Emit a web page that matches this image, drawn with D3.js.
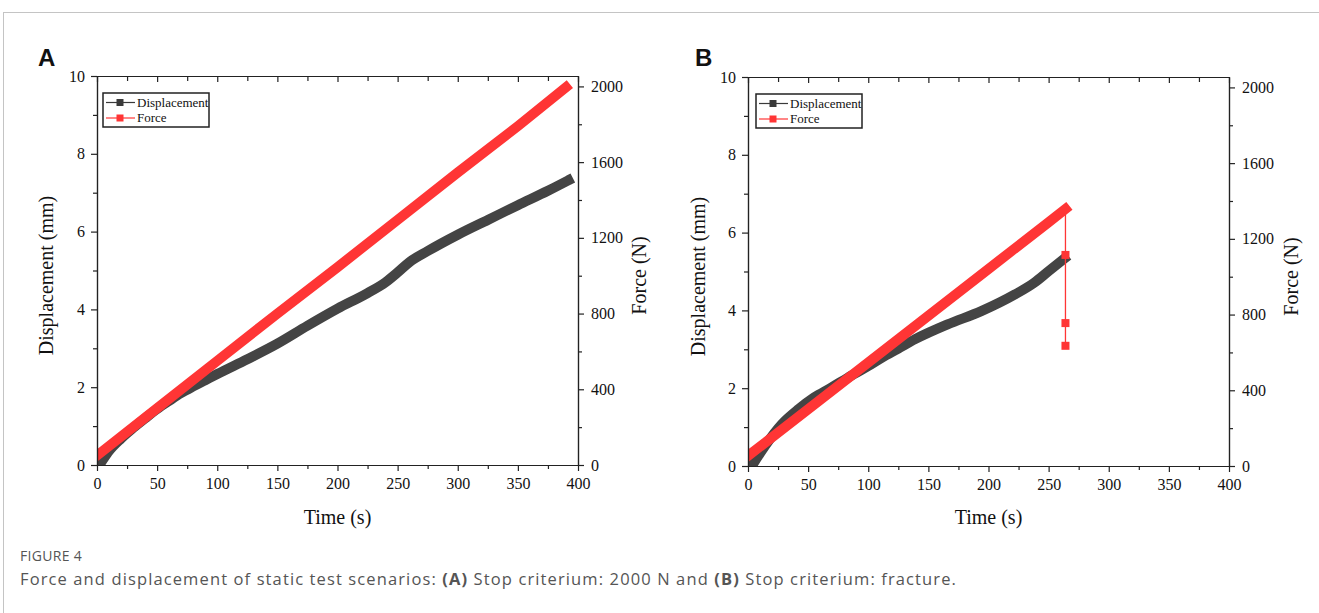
<!DOCTYPE html>
<html>
<head>
<meta charset="utf-8">
<script src="https://cdn.jsdelivr.net/npm/d3@7"></script>
<style>
  body { margin: 0; background: #fff; }
  svg { display: block; }
</style>
</head>
<body>
<svg id="fig" width="1319" height="613"></svg>
<script>
// values
const timeTicks = [0, 50, 100, 150, 200, 250, 300, 350, 400];
const timeMinor = [25, 75, 125, 175, 225, 275, 325, 375];
const dispTicks = [0, 2, 4, 6, 8, 10];
const dispMinor = [1, 3, 5, 7, 9];
const forceTicks = [0, 400, 800, 1200, 1600, 2000];
const forceMinor = [200, 600, 1000, 1400, 1800];

// panel A: stop criterium 2000 N
const dispTimeA = [2, 5, 10, 20, 30, 40, 50, 60, 70, 80, 90, 100, 125, 150, 175, 200, 225, 240, 250, 260, 275, 300, 325, 350, 375, 392];
const dispA = [0, 0.14, 0.36, 0.68, 0.95, 1.2, 1.44, 1.65, 1.85, 2.02, 2.18, 2.34, 2.72, 3.12, 3.58, 4.02, 4.42, 4.7, 4.95, 5.22, 5.5, 5.92, 6.3, 6.68, 7.05, 7.32];
const forceTimeA = [1, 50, 100, 150, 200, 250, 300, 350, 390];
const forceA = [55, 300, 550, 800, 1045, 1295, 1545, 1790, 1995];

// panel B: stop criterium fracture
const dispTimeB = [4, 14, 28, 42, 55, 69, 83, 100, 111, 125, 139, 166, 194, 222, 238, 250, 263];
const dispB = [0.04, 0.51, 1.07, 1.46, 1.76, 2.01, 2.27, 2.57, 2.78, 3.02, 3.26, 3.64, 3.98, 4.41, 4.71, 5.01, 5.33];
const forceTimeB = [1, 50, 100, 150, 200, 250, 264];
const forceB = [58, 300, 547, 794, 1041, 1288, 1358];
const dropTimeB = [264, 264, 264, 264];
const dropForceB = [1358, 1115, 755, 635];

const serif = '"Liberation Serif", "Times New Roman", serif';
const red = '#ff3535';
const grey = '#444';

const svg = d3.select('#fig');

// page frame lines
svg.append('line').attr('x1', 3).attr('x2', 1319).attr('y1', 12.5).attr('y2', 12.5)
  .attr('stroke', '#c4c4c4').attr('stroke-width', 1);
svg.append('line').attr('x1', 3.5).attr('x2', 3.5).attr('y1', 12).attr('y2', 613)
  .attr('stroke', '#c4c4c4').attr('stroke-width', 1);

function zip(xs, ys) {
  return xs.map((x, i) => [x, ys[i]]);
}

function styleAxis(g) {
  g.selectAll('path, line').attr('stroke', '#222').attr('stroke-width', 1.2);
  g.selectAll('text').attr('font-family', serif).attr('font-size', '16px').attr('fill', '#111');
}

function drawPanel(p) {
  const width = 481;
  const height = 389;
  const g = svg.append('g').attr('transform', `translate(${p.left},${p.top})`);
  const clipId = 'clip' + p.name;

  g.append('clipPath').attr('id', clipId)
    .append('rect').attr('x', 0).attr('y', -2).attr('width', width + 2).attr('height', height + 2);

  const x = d3.scaleLinear().domain([0, 400]).range([0, width]);
  const yL = d3.scaleLinear().domain([0, 10]).range([height, 0]);
  const yR = d3.scaleLinear().domain([0, 2055]).range([height, 0]);

  const lineD = d3.line().x(d => x(d[0])).y(d => yL(d[1])).curve(d3.curveMonotoneX);
  const lineF = d3.line().x(d => x(d[0])).y(d => yR(d[1]));

  const plot = g.append('g').attr('clip-path', `url(#${clipId})`);

  plot.append('path')
    .datum(zip(p.dispTime, p.disp))
    .attr('d', lineD)
    .attr('fill', 'none')
    .attr('stroke', grey)
    .attr('stroke-width', 10)
    .attr('stroke-linecap', 'square')
    .attr('stroke-linejoin', 'round');

  if (p.dropTime) {
    plot.append('path')
      .datum(zip(p.dropTime, p.dropForce))
      .attr('d', lineF)
      .attr('fill', 'none')
      .attr('stroke', red)
      .attr('stroke-width', 1.3);
  }

  plot.append('path')
    .datum(zip(p.forceTime, p.force))
    .attr('d', lineF)
    .attr('fill', 'none')
    .attr('stroke', red)
    .attr('stroke-width', 10)
    .attr('stroke-linecap', 'square')
    .attr('stroke-linejoin', 'round');

  if (p.dropTime) {
    plot.selectAll('.drop')
      .data(zip(p.dropTime, p.dropForce).slice(1))
      .enter()
      .append('rect')
      .attr('class', 'drop')
      .attr('x', d => x(d[0]) - 4)
      .attr('y', d => yR(d[1]) - 4)
      .attr('width', 8)
      .attr('height', 8)
      .attr('fill', red);
  }

  // axes
  g.append('g').attr('transform', `translate(0,${height})`)
    .call(d3.axisBottom(x).tickValues(timeTicks).tickSize(6).tickPadding(7).tickSizeOuter(0))
    .call(styleAxis);
  g.append('g').attr('transform', `translate(0,${height})`)
    .call(d3.axisBottom(x).tickValues(timeMinor).tickSize(4).tickFormat('').tickSizeOuter(0))
    .call(styleAxis);
  g.append('g')
    .call(d3.axisBottom(x).tickValues(timeTicks).tickSize(6).tickFormat('').tickSizeOuter(0))
    .call(styleAxis);
  g.append('g')
    .call(d3.axisBottom(x).tickValues(timeMinor).tickSize(5).tickFormat('').tickSizeOuter(0))
    .call(styleAxis);

  g.append('g')
    .call(d3.axisLeft(yL).tickValues(dispTicks).tickSize(6).tickPadding(6).tickSizeOuter(0))
    .call(styleAxis);
  g.append('g')
    .call(d3.axisLeft(yL).tickValues(dispMinor).tickSize(4).tickFormat('').tickSizeOuter(0))
    .call(styleAxis);

  g.append('g').attr('transform', `translate(${width},0)`)
    .call(d3.axisRight(yR).tickValues(forceTicks).tickSize(6).tickPadding(7).tickFormat(d3.format('d')).tickSizeOuter(0))
    .call(styleAxis);
  g.append('g').attr('transform', `translate(${width},0)`)
    .call(d3.axisRight(yR).tickValues(forceMinor).tickSize(4).tickFormat('').tickSizeOuter(0))
    .call(styleAxis);

  // axis titles
  g.append('text')
    .attr('x', width / 2)
    .attr('y', p.timeLabelY)
    .attr('text-anchor', 'middle')
    .attr('font-family', serif)
    .attr('font-size', '20px')
    .attr('fill', '#111')
    .text('Time (s)');

  g.append('text')
    .attr('transform', `translate(${p.dispLabelX},${height / 2 + 5}) rotate(-90)`)
    .attr('text-anchor', 'middle')
    .attr('font-family', serif)
    .attr('font-size', '20px')
    .attr('fill', '#111')
    .text('Displacement (mm)');

  g.append('text')
    .attr('transform', `translate(${width + p.forceLabelDx},${height / 2 + 5}) rotate(-90)`)
    .attr('text-anchor', 'middle')
    .attr('font-family', serif)
    .attr('font-size', '20px')
    .attr('fill', '#111')
    .text('Force (N)');

  // legend
  const legend = g.append('g').attr('transform', `translate(${p.legendX},${p.legendY})`);
  legend.append('rect')
    .attr('x', 0).attr('y', 0)
    .attr('width', 106).attr('height', 34)
    .attr('fill', '#fff')
    .attr('stroke', '#222')
    .attr('stroke-width', 1.5);

  const items = [
    { name: 'Displacement', color: '#3a3a3a' },
    { name: 'Force', color: red }
  ];
  items.forEach((item, i) => {
    const cy = 9.5 + i * 15.5;
    legend.append('line')
      .attr('x1', 3).attr('x2', 32).attr('y1', cy).attr('y2', cy)
      .attr('stroke', item.color).attr('stroke-width', 1.2);
    legend.append('rect')
      .attr('x', 13.5).attr('y', cy - 3.5).attr('width', 7).attr('height', 7)
      .attr('fill', item.color);
    legend.append('text')
      .attr('x', 34).attr('y', cy + 4)
      .attr('font-family', serif)
      .attr('font-size', '13px')
      .attr('fill', '#111')
      .text(item.name);
  });

  // panel letter
  svg.append('text')
    .attr('x', p.letterX)
    .attr('y', 66)
    .attr('font-family', '"Liberation Sans", Arial, sans-serif')
    .attr('font-weight', 'bold')
    .attr('font-size', '24px')
    .attr('fill', '#111')
    .text(p.name);
}

drawPanel({
  name: 'A', left: 97, top: 76,
  dispTime: dispTimeA, disp: dispA,
  forceTime: forceTimeA, force: forceA,
  timeLabelY: 448, dispLabelX: -44, forceLabelDx: 68,
  legendX: 6, legendY: 17, letterX: 38
});

drawPanel({
  name: 'B', left: 748, top: 77,
  dispTime: dispTimeB, disp: dispB,
  forceTime: forceTimeB, force: forceB,
  dropTime: dropTimeB, dropForce: dropForceB,
  timeLabelY: 447, dispLabelX: -43, forceLabelDx: 69,
  legendX: 8, legendY: 17, letterX: 695
});

// caption: stretch with letter spacing so the width matches the figure
function fitWidth(sel, target) {
  const n = sel.text().length;
  const w = sel.node().getComputedTextLength();
  sel.attr('letter-spacing', ((target - w) / n).toFixed(3) + 'px');
}

const figLabel = svg.append('text')
  .attr('x', 20).attr('y', 561)
  .attr('font-family', '"Open Sans", sans-serif')
  .attr('font-size', '14px')
  .attr('fill', '#555')
  .text('FIGURE 4');
fitWidth(figLabel, 62);

const caption = svg.append('text')
  .attr('x', 20).attr('y', 585)
  .attr('font-family', '"Open Sans", sans-serif')
  .attr('font-size', '16.5px')
  .attr('fill', '#555');
const parts = [
  ['Force and displacement of static test scenarios: ', false],
  ['(A)', true],
  [' Stop criterium: 2000 N and ', false],
  ['(B)', true],
  [' Stop criterium: fracture.', false]
];
parts.forEach(([t, bold]) => {
  caption.append('tspan').attr('font-weight', bold ? 'bold' : 'normal').text(t);
});
fitWidth(caption, 937);
</script>
</body>
</html>
